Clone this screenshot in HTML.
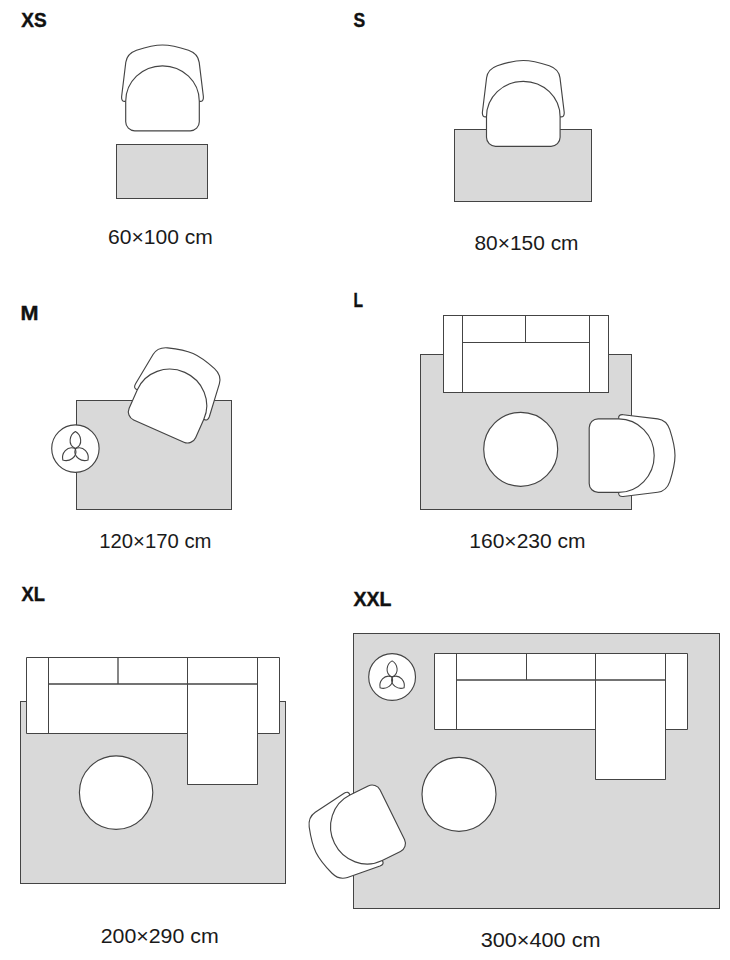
<!DOCTYPE html>
<html><head><meta charset="utf-8"><style>
html,body{margin:0;padding:0;background:#fff;}
svg{display:block;}
.lb{font-family:"Liberation Sans",sans-serif;font-weight:bold;font-size:20px;fill:#111;stroke:#111;stroke-width:0.4px;}
.dm{font-family:"Liberation Sans",sans-serif;font-size:20px;fill:#1a1a1a;}
</style></head><body>
<svg width="730" height="960" viewBox="0 0 730 960">
<g stroke="#444444" stroke-width="1.0" fill="none">
<g transform="translate(162.5,44.8) rotate(0) scale(1)" stroke-width="1.15"><path d="M-36.8,56.5 Q-41.3,57.2 -40.9,52 L-36.7,17.5 Q-35.5,8.7 -26,5.4 C-18,2.8 -8,0.2 0,0.2 C8,0.2 18,2.8 26,5.4 Q35.5,8.7 36.7,17.5 L40.9,52 Q41.3,57.2 36.8,56.5 Z" fill="#fff"/><path d="M-36.8,56.5 A36.8,35.5 0 0 1 36.8,56.5 L36.8,77 A9,9 0 0 1 27.8,86 L-27.8,86 A9,9 0 0 1 -36.8,77 Z" fill="#fff"/></g>
<rect x="116.5" y="144.5" width="91.00" height="54.00" fill="#d9d9d9"/>
<rect x="454.5" y="129.5" width="137.00" height="72.00" fill="#d9d9d9"/>
<g transform="translate(523.3,60.3) rotate(0) scale(1)" stroke-width="1.15"><path d="M-36.8,56.5 Q-41.3,57.2 -40.9,52 L-36.7,17.5 Q-35.5,8.7 -26,5.4 C-18,2.8 -8,0.2 0,0.2 C8,0.2 18,2.8 26,5.4 Q35.5,8.7 36.7,17.5 L40.9,52 Q41.3,57.2 36.8,56.5 Z" fill="#fff"/><path d="M-36.8,56.5 A36.8,35.5 0 0 1 36.8,56.5 L36.8,77 A9,9 0 0 1 27.8,86 L-27.8,86 A9,9 0 0 1 -36.8,77 Z" fill="#fff"/></g>
<rect x="76.5" y="400.5" width="155.00" height="109.00" fill="#d9d9d9"/>
<g transform="translate(75.4,448.6)"><circle r="23.7" fill="#fff" stroke-width="1.15"/><path d="M0,0 C-8.5,-4 -5.5,-14 0,-17 C5.5,-14 8.5,-4 0,0 Z" transform="rotate(0) scale(1)" fill="none" stroke-width="1.1"/><path d="M0,0 C-8.5,-4 -5.5,-14 0,-17 C5.5,-14 8.5,-4 0,0 Z" transform="rotate(132) scale(1)" fill="none" stroke-width="1.1"/><path d="M0,0 C-8.5,-4 -5.5,-14 0,-17 C5.5,-14 8.5,-4 0,0 Z" transform="rotate(-132) scale(1)" fill="none" stroke-width="1.1"/></g>
<g transform="translate(193.2,353.4) rotate(23.9) scale(0.988)" stroke-width="1.15"><path d="M-36.8,56.5 Q-41.3,57.2 -40.9,52 L-36.7,17.5 Q-35.5,8.7 -26,5.4 C-18,2.8 -8,0.2 0,0.2 C8,0.2 18,2.8 26,5.4 Q35.5,8.7 36.7,17.5 L40.9,52 Q41.3,57.2 36.8,56.5 Z" fill="#fff"/><path d="M-36.8,56.5 A36.8,35.5 0 0 1 36.8,56.5 L36.8,77 A9,9 0 0 1 27.8,86 L-27.8,86 A9,9 0 0 1 -36.8,77 Z" fill="#fff"/></g>
<rect x="420.5" y="354.5" width="211.00" height="155.00" fill="#d9d9d9"/>
<rect x="443.5" y="315.5" width="165.00" height="77.00" fill="#fff"/><line x1="462.5" y1="315.5" x2="462.5" y2="392.5"/><line x1="589.5" y1="315.5" x2="589.5" y2="392.5"/><line x1="462.5" y1="342.5" x2="589.5" y2="342.5"/><line x1="525.5" y1="315.5" x2="525.5" y2="342.5"/>
<circle cx="520.7" cy="449.3" r="37" fill="#fff" stroke-width="1.15"/>
<g transform="translate(675.2,455.6) rotate(90) scale(1)" stroke-width="1.15"><path d="M-36.8,56.5 Q-41.3,57.2 -40.9,52 L-36.7,17.5 Q-35.5,8.7 -26,5.4 C-18,2.8 -8,0.2 0,0.2 C8,0.2 18,2.8 26,5.4 Q35.5,8.7 36.7,17.5 L40.9,52 Q41.3,57.2 36.8,56.5 Z" fill="#fff"/><path d="M-36.8,56.5 A36.8,35.5 0 0 1 36.8,56.5 L36.8,77 A9,9 0 0 1 27.8,86 L-27.8,86 A9,9 0 0 1 -36.8,77 Z" fill="#fff"/></g>
<rect x="20.5" y="701.5" width="265.00" height="182.00" fill="#d9d9d9"/>
<polygon points="26.5,657.5 279.5,657.5 279.5,733.5 257.5,733.5 257.5,784.5 187.5,784.5 187.5,733.5 26.5,733.5" fill="#fff"/><line x1="187.5" y1="657.5" x2="187.5" y2="784.5"/><line x1="48.5" y1="657.5" x2="48.5" y2="733.5"/><line x1="257.5" y1="657.5" x2="257.5" y2="784.5"/><line x1="48.5" y1="684.0" x2="257.5" y2="684.0" stroke-width="1.3"/><line x1="118.0" y1="657.5" x2="118.0" y2="684.0" stroke-width="1.3"/><line x1="187.5" y1="657.5" x2="187.5" y2="684.0"/>
<circle cx="116.1" cy="792.6" r="36.7" fill="#fff" stroke-width="1.15"/>
<rect x="353.5" y="633.5" width="366.00" height="275.00" fill="#d9d9d9"/>
<g transform="translate(392.1,677)"><circle r="23.4" fill="#fff" stroke-width="1.15"/><path d="M0,0 C-8.5,-4 -5.5,-14 0,-17 C5.5,-14 8.5,-4 0,0 Z" transform="rotate(0) scale(0.95)" fill="none" stroke-width="1.1"/><path d="M0,0 C-8.5,-4 -5.5,-14 0,-17 C5.5,-14 8.5,-4 0,0 Z" transform="rotate(132) scale(0.95)" fill="none" stroke-width="1.1"/><path d="M0,0 C-8.5,-4 -5.5,-14 0,-17 C5.5,-14 8.5,-4 0,0 Z" transform="rotate(-132) scale(0.95)" fill="none" stroke-width="1.1"/></g>
<polygon points="434.5,653.5 687.5,653.5 687.5,729.5 665.5,729.5 665.5,779.5 595.5,779.5 595.5,729.5 434.5,729.5" fill="#fff"/><line x1="595.5" y1="653.5" x2="595.5" y2="779.5"/><line x1="456.5" y1="653.5" x2="456.5" y2="729.5"/><line x1="665.5" y1="653.5" x2="665.5" y2="779.5"/><line x1="456.5" y1="680.0" x2="665.5" y2="680.0" stroke-width="1.3"/><line x1="526.5" y1="653.5" x2="526.5" y2="680.0"/><line x1="595.5" y1="653.5" x2="595.5" y2="680.0"/>
<circle cx="459" cy="794.3" r="37" fill="#fff" stroke-width="1.15"/>
<g transform="translate(315.8,852.5) rotate(243.75) scale(0.992)" stroke-width="1.15"><path d="M-36.8,56.5 Q-41.3,57.2 -40.9,52 L-36.7,17.5 Q-35.5,8.7 -26,5.4 C-18,2.8 -8,0.2 0,0.2 C8,0.2 18,2.8 26,5.4 Q35.5,8.7 36.7,17.5 L40.9,52 Q41.3,57.2 36.8,56.5 Z" fill="#fff"/><path d="M-36.8,56.5 A36.8,35.5 0 0 1 36.8,56.5 L36.8,77 A9,9 0 0 1 27.8,86 L-27.8,86 A9,9 0 0 1 -36.8,77 Z" fill="#fff"/></g>
</g>
<text x="21.2" y="27.4" class="lb" textLength="25.4" lengthAdjust="spacingAndGlyphs">XS</text>
<text x="108.1" y="244.4" class="dm" textLength="104.8" lengthAdjust="spacingAndGlyphs">60×100 cm</text>
<text x="353.4" y="27.4" class="lb" textLength="11.7" lengthAdjust="spacingAndGlyphs">S</text>
<text x="474.5" y="249.6" class="dm" textLength="104.0" lengthAdjust="spacingAndGlyphs">80×150 cm</text>
<text x="20.5" y="319.5" class="lb" textLength="18" lengthAdjust="spacingAndGlyphs">M</text>
<text x="99.3" y="547.6" class="dm" textLength="112.1" lengthAdjust="spacingAndGlyphs">120×170 cm</text>
<text x="353.5" y="307.2" class="lb" textLength="9.5" lengthAdjust="spacingAndGlyphs">L</text>
<text x="469.3" y="547.6" class="dm" textLength="116.3" lengthAdjust="spacingAndGlyphs">160×230 cm</text>
<text x="21.5" y="601" class="lb" textLength="23.4" lengthAdjust="spacingAndGlyphs">XL</text>
<text x="100.7" y="943" class="dm" textLength="118.0" lengthAdjust="spacingAndGlyphs">200×290 cm</text>
<text x="353.4" y="605.6" class="lb" textLength="37.9" lengthAdjust="spacingAndGlyphs">XXL</text>
<text x="480.7" y="946.9" class="dm" textLength="119.9" lengthAdjust="spacingAndGlyphs">300×400 cm</text>
</svg>
</body></html>
